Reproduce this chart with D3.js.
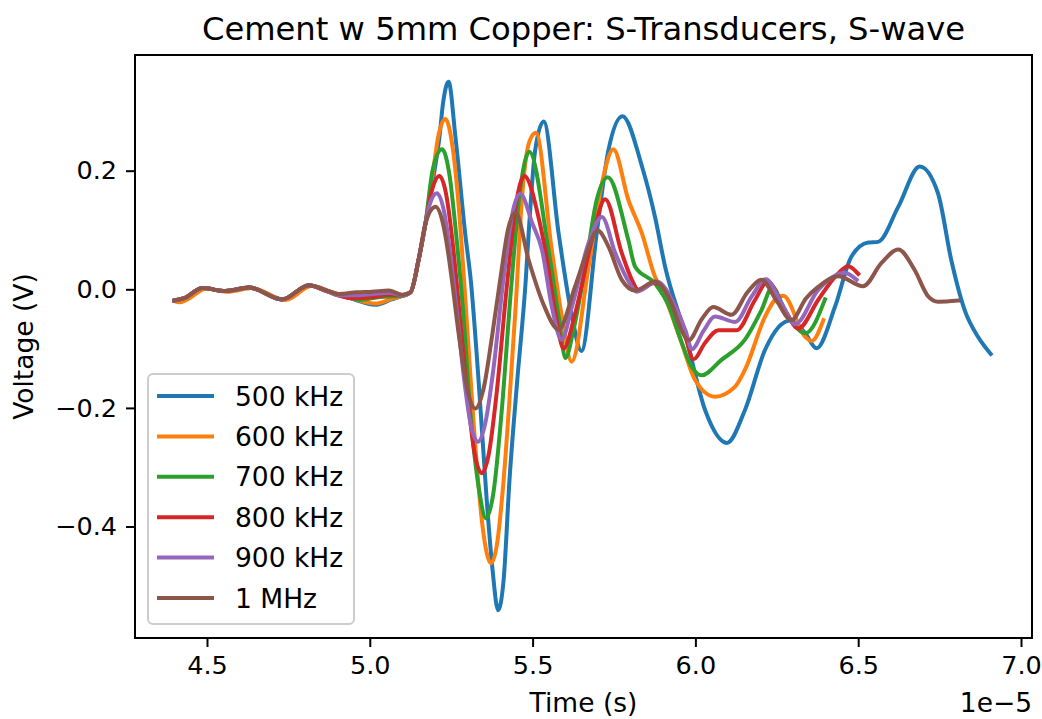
<!DOCTYPE html>
<html>
<head>
<meta charset="utf-8">
<script src="https://cdn.jsdelivr.net/npm/d3@7"></script>
<style>
  body { margin: 0; background: #fff; }
  svg { display: block; font-family: "DejaVu Sans", sans-serif; }
</style>
</head>
<body>
<svg id="chart" width="1042" height="719"></svg>
<script>
// time in units of 1e-5 s, voltage in V
const s500 = [[4.40,-0.019],[4.43,-0.016],[4.486,0.002],[4.557,-0.003],[4.629,0.003],[4.731,-0.017],[4.813,0.007],[4.87,-0.003],[4.94,-0.015],[5.017,-0.026],[5.067,-0.017],[5.10,-0.011],[5.125,-0.005],[5.15,0.05],[5.171,0.111],[5.199,0.201],[5.214,0.257],[5.225,0.314],[5.242,0.350],[5.263,0.257],[5.294,0.089],[5.31,0.016],[5.334,-0.153],[5.359,-0.355],[5.377,-0.473],[5.394,-0.541],[5.411,-0.49],[5.429,-0.322],[5.453,-0.153],[5.479,0.016],[5.488,0.095],[5.508,0.235],[5.534,0.283],[5.58,0.094],[5.621,-0.046],[5.65,-0.104],[5.697,0.095],[5.733,0.235],[5.776,0.292],[5.836,0.207],[5.876,0.122],[5.907,0.038],[5.968,-0.074],[6.030,-0.204],[6.097,-0.259],[6.152,-0.204],[6.214,-0.102],[6.255,-0.064],[6.294,-0.052],[6.337,-0.074],[6.372,-0.0995],[6.429,-0.029],[6.479,0.055],[6.531,0.079],[6.561,0.080],[6.623,0.139],[6.689,0.207],[6.745,0.162],[6.786,0.049],[6.827,-0.035],[6.868,-0.080],[6.907,-0.109]];
const s600 = [[4.40,-0.020],[4.415,-0.022],[4.44,-0.017],[4.497,0.001],[4.567,-0.004],[4.638,0.002],[4.741,-0.018],[4.822,0.006],[4.88,-0.004],[4.95,-0.016],[5.017,-0.024],[5.067,-0.016],[5.10,-0.011],[5.125,-0.005],[5.15,0.05],[5.171,0.111],[5.195,0.201],[5.21,0.257],[5.232,0.287],[5.255,0.237],[5.275,0.127],[5.294,-0.022],[5.32,-0.234],[5.345,-0.394],[5.372,-0.462],[5.39,-0.432],[5.41,-0.328],[5.43,-0.178],[5.448,-0.029],[5.467,0.151],[5.49,0.249],[5.51,0.264],[5.559,0.066],[5.590,-0.046],[5.62,-0.122],[5.672,0.038],[5.713,0.179],[5.748,0.236],[5.794,0.151],[5.836,0.094],[5.876,0.021],[5.90,-0.005],[5.958,-0.091],[5.999,-0.153],[6.060,-0.181],[6.122,-0.164],[6.152,-0.136],[6.214,-0.046],[6.244,-0.018],[6.270,-0.011],[6.337,-0.080],[6.357,-0.087],[6.393,-0.052]];
const s700 = [[4.40,-0.019],[4.43,-0.015],[4.486,0.002],[4.557,-0.003],[4.629,0.003],[4.731,-0.017],[4.813,0.007],[4.87,-0.003],[4.93,-0.013],[4.97,-0.018],[5.03,-0.013],[5.10,-0.011],[5.125,-0.005],[5.15,0.05],[5.171,0.111],[5.193,0.201],[5.222,0.236],[5.245,0.192],[5.265,0.094],[5.285,-0.026],[5.31,-0.216],[5.335,-0.336],[5.357,-0.386],[5.38,-0.342],[5.405,-0.206],[5.433,-0.005],[5.46,0.16],[5.49,0.232],[5.549,0.066],[5.58,-0.046],[5.601,-0.116],[5.625,-0.07],[5.662,0.038],[5.697,0.151],[5.731,0.189],[5.794,0.083],[5.815,0.038],[5.876,0.010],[5.92,-0.03],[5.948,-0.074],[5.989,-0.131],[6.019,-0.145],[6.080,-0.119],[6.152,-0.085],[6.203,-0.035],[6.237,0.004],[6.27,-0.03],[6.30,-0.058],[6.338,-0.074],[6.398,-0.017]];
const s800 = [[4.40,-0.019],[4.43,-0.015],[4.486,0.002],[4.557,-0.003],[4.629,0.003],[4.731,-0.017],[4.813,0.007],[4.87,-0.004],[4.945,-0.015],[5.01,-0.013],[5.06,-0.009],[5.10,-0.010],[5.125,-0.005],[5.15,0.05],[5.171,0.111],[5.19,0.165],[5.214,0.191],[5.235,0.159],[5.255,0.076],[5.273,-0.025],[5.30,-0.181],[5.322,-0.277],[5.344,-0.310],[5.365,-0.279],[5.39,-0.173],[5.42,0.0],[5.45,0.147],[5.475,0.191],[5.518,0.122],[5.539,0.066],[5.570,-0.040],[5.595,-0.100],[5.631,-0.040],[5.682,0.083],[5.723,0.152],[5.774,0.061],[5.805,0.016],[5.825,-0.001],[5.877,0.011],[5.942,-0.035],[5.972,-0.085],[5.994,-0.118],[6.030,-0.09],[6.071,-0.069],[6.127,-0.069],[6.183,-0.018],[6.222,0.013],[6.275,-0.035],[6.316,-0.066],[6.377,-0.018],[6.429,0.021],[6.469,0.039],[6.500,0.026]];
const s900 = [[4.40,-0.019],[4.43,-0.015],[4.486,0.002],[4.557,-0.003],[4.629,0.003],[4.731,-0.017],[4.813,0.007],[4.87,-0.003],[4.905,-0.010],[4.96,-0.010],[5.01,-0.008],[5.06,-0.006],[5.10,-0.010],[5.125,-0.005],[5.15,0.05],[5.171,0.111],[5.185,0.145],[5.206,0.162],[5.23,0.126],[5.25,0.047],[5.264,-0.02],[5.29,-0.153],[5.31,-0.228],[5.332,-0.257],[5.355,-0.225],[5.38,-0.133],[5.411,0.020],[5.44,0.133],[5.462,0.161],[5.50,0.110],[5.529,0.066],[5.559,-0.029],[5.589,-0.085],[5.621,-0.029],[5.672,0.078],[5.713,0.122],[5.754,0.061],[5.795,0.013],[5.820,-0.004],[5.881,0.013],[5.938,-0.029],[5.970,-0.07],[5.989,-0.101],[6.025,-0.07],[6.060,-0.046],[6.122,-0.055],[6.173,-0.012],[6.216,0.017],[6.265,-0.024],[6.306,-0.059],[6.377,-0.001],[6.459,0.028],[6.495,0.016]];
const s1000 = [[4.40,-0.019],[4.43,-0.015],[4.486,0.002],[4.557,-0.003],[4.629,0.003],[4.731,-0.017],[4.813,0.007],[4.864,-0.001],[4.905,-0.008],[4.96,-0.005],[5.007,-0.004],[5.058,-0.002],[5.10,-0.009],[5.125,-0.005],[5.15,0.05],[5.171,0.111],[5.202,0.139],[5.225,0.110],[5.24,0.064],[5.252,0.016],[5.275,-0.083],[5.30,-0.17],[5.324,-0.201],[5.35,-0.166],[5.375,-0.081],[5.402,0.022],[5.425,0.102],[5.448,0.129],[5.488,0.049],[5.534,-0.026],[5.580,-0.068],[5.630,0.004],[5.662,0.055],[5.700,0.099],[5.733,0.072],[5.774,0.016],[5.815,-0.002],[5.876,0.013],[5.926,-0.023],[5.957,-0.069],[5.979,-0.086],[6.02,-0.05],[6.055,-0.030],[6.111,-0.043],[6.16,-0.005],[6.203,0.016],[6.25,-0.02],[6.295,-0.052],[6.34,-0.015],[6.377,0.004],[6.439,0.022],[6.515,0.005],[6.571,0.044],[6.623,0.067],[6.673,0.033],[6.715,-0.012],[6.745,-0.021],[6.807,-0.019]];

const seriesData = [s500, s600, s700, s800, s900, s1000];
const seriesLabels = ["500 kHz", "600 kHz", "700 kHz", "800 kHz", "900 kHz", "1 MHz"];
const seriesColors = ["#1f77b4", "#ff7f0e", "#2ca02c", "#d62728", "#9467bd", "#8c564b"];
const xTicks = [4.5, 5.0, 5.5, 6.0, 6.5, 7.0];
const yTicks = [-0.4, -0.2, 0.0, 0.2];

const svg = d3.select("#chart");
const plotL = 135, plotR = 1032, plotT = 55, plotB = 638;
const fs = 26.5;

let x = d3.scaleLinear().domain([4.2789, 7.0338]).range([plotL, plotR]);
let y = d3.scaleLinear().domain([-0.588, 0.3951]).range([plotB, plotT]);

let line = d3.line()
  .x(d => x(d[0]))
  .y(d => y(d[1]))
  .curve(d3.curveMonotoneX);

svg.append("g")
  .selectAll("path")
  .data(seriesData)
  .enter()
  .append("path")
  .attr("d", d => line(d))
  .attr("fill", "none")
  .attr("stroke", (d, i) => seriesColors[i])
  .attr("stroke-width", 4)
  .attr("stroke-linejoin", "round")
  .attr("stroke-linecap", "square");

// axes
let xAxis = d3.axisBottom(x).tickValues(xTicks).tickFormat(d3.format(".1f")).tickSize(9).tickPadding(9);
let yAxis = d3.axisLeft(y).tickValues(yTicks).tickFormat(d3.format(".1f")).tickSize(9).tickPadding(9);

let gx = svg.append("g").attr("transform", `translate(0,${plotB})`).call(xAxis);
let gy = svg.append("g").attr("transform", `translate(${plotL},0)`).call(yAxis);
[gx, gy].forEach(g => {
  g.attr("font-size", 25.5).attr("font-family", "DejaVu Sans").attr("color", "#000");
  g.select(".domain").remove();
  g.selectAll(".tick line").attr("stroke-width", 2);
});

// frame
svg.append("rect")
  .attr("x", plotL).attr("y", plotT)
  .attr("width", plotR - plotL).attr("height", plotB - plotT)
  .attr("fill", "none").attr("stroke", "#000").attr("stroke-width", 2);

// texts
svg.append("text")
  .attr("x", (plotL + plotR) / 2).attr("y", 40)
  .attr("text-anchor", "middle").attr("font-size", 32.2)
  .text("Cement w 5mm Copper: S-Transducers, S-wave");

svg.append("text")
  .attr("x", (plotL + plotR) / 2).attr("y", 712)
  .attr("text-anchor", "middle").attr("font-size", fs)
  .text("Time (s)");

svg.append("text")
  .attr("x", plotR).attr("y", 712)
  .attr("text-anchor", "end").attr("font-size", fs)
  .text("1e\u22125");

svg.append("text")
  .attr("transform", "rotate(-90)")
  .attr("x", -(plotT + plotB) / 2).attr("y", 33)
  .attr("text-anchor", "middle").attr("font-size", fs)
  .text("Voltage (V)");

// legend
let legend = svg.append("g");
legend.append("rect")
  .attr("x", 148).attr("y", 374).attr("width", 206).attr("height", 250)
  .attr("rx", 5)
  .attr("fill", "#fff").attr("fill-opacity", 0.8)
  .attr("stroke", "#cccccc").attr("stroke-width", 2);

let rows = legend.selectAll("g.row")
  .data(seriesLabels)
  .enter()
  .append("g")
  .attr("class", "row")
  .attr("transform", (d, i) => `translate(0,${396 + i * 40.4})`);

rows.append("line")
  .attr("x1", 157).attr("x2", 214)
  .attr("stroke", (d, i) => seriesColors[i])
  .attr("stroke-width", 4);

rows.append("text")
  .attr("x", 235).attr("dy", "0.36em")
  .attr("font-size", fs)
  .text(d => d);
</script>
</body>
</html>
